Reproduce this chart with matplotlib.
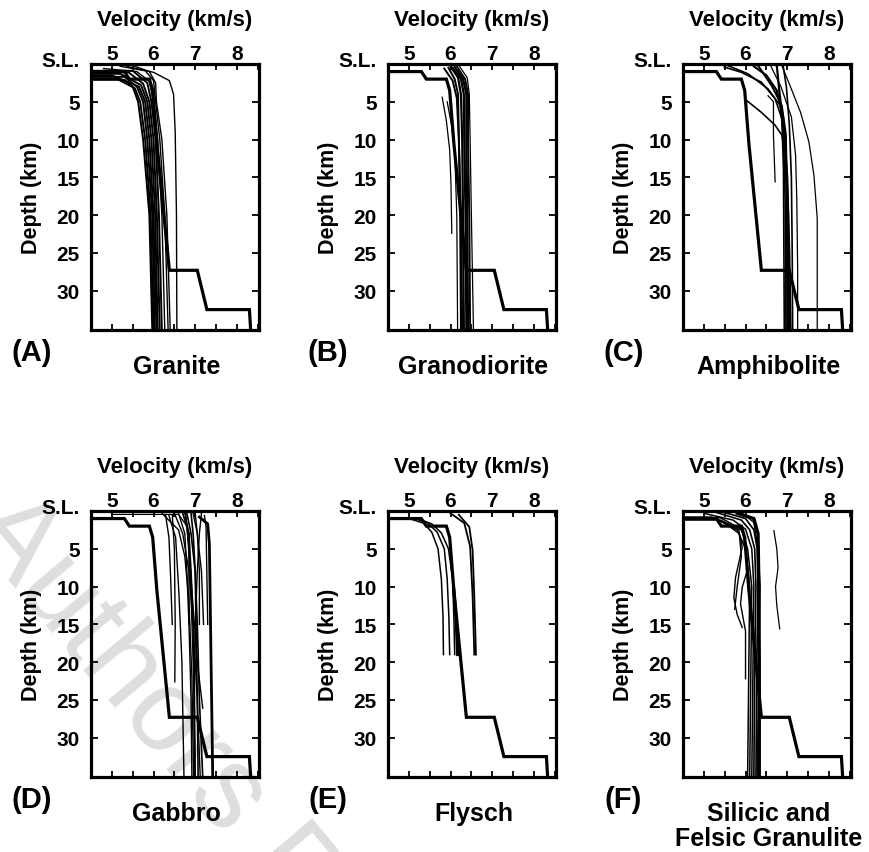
import matplotlib.pyplot as plt
from matplotlib.ticker import MultipleLocator
import matplotlib.transforms as mtransforms

plt.rcParams['font.family'] = ['Liberation Sans', 'DejaVu Sans']
plt.rcParams['font.weight'] = 'bold'

# reference crustal model, drawn in every panel
ref_v = [4.5, 5.3, 5.42, 5.9, 5.98, 6.08, 6.38, 7.05, 7.28, 8.3, 8.33]
ref_d = [1.0, 1.0, 2.0, 2.0, 3.5, 10.5, 27.3, 27.3, 32.5, 32.5, 35.2]

# (A) granite
granite_v = [
    [4.5, 5.3, 5.5, 5.63, 5.75, 5.9, 5.97],
    [4.5, 5.1, 5.55, 5.68, 5.8, 5.93, 6.0],
    [4.5, 5.3, 5.6, 5.75, 5.85, 5.97, 6.03],
    [4.5, 5.0, 5.65, 5.8, 5.9, 6.0, 6.07],
    [4.5, 5.2, 5.7, 5.85, 5.95, 6.04, 6.1],
    [4.5, 5.4, 5.75, 5.9, 6.0, 6.08, 6.15],
    [4.5, 5.5, 5.85, 5.95, 6.05, 6.13, 6.2],
    [4.8, 5.6, 5.9, 6.0, 6.1, 6.2, 6.27],
    [5.2, 5.8, 6.0, 6.05, 6.15, 6.27, 6.35],
    [5.5, 5.9, 6.05, 6.07, 6.2, 6.32, 6.4],
    [5.35, 6.0, 6.38, 6.48, 6.52, 6.55, 6.56],
]
granite_d = [
    [2.1, 2.1, 3.0, 5, 10, 20, 35.2],
    [1.9, 1.9, 3.2, 5, 10, 20, 35.2],
    [1.7, 1.7, 3.0, 5, 10, 20, 35.2],
    [1.5, 1.5, 3.0, 5, 10, 20, 35.2],
    [1.3, 1.3, 2.8, 5, 10, 20, 35.2],
    [1.1, 1.1, 2.6, 5, 10, 20, 35.2],
    [0.9, 0.9, 2.5, 5, 10, 20, 35.2],
    [0.6, 1.0, 2.3, 5, 10, 20, 35.2],
    [0.3, 0.9, 2.2, 5, 10, 20, 35.2],
    [0.2, 1.0, 2.5, 5, 10, 20, 35.2],
    [0.3, 1.1, 2.2, 4, 9, 20, 35.2],
]
granite_lw = [1.4, 1.4, 1.4, 1.4, 1.4, 1.4, 1.4, 1.0, 1.0, 1.0, 1.0]

# (B) granodiorite
granodiorite_v = [
    [5.8, 5.9, 5.98, 6.01, 6.03],
    [5.92, 6.02, 6.1, 6.15, 6.17],
    [5.85, 6.05, 6.15, 6.2, 6.25, 6.28],
    [5.95, 6.1, 6.18, 6.2, 6.23, 6.25],
    [6.0, 6.18, 6.25, 6.28, 6.3, 6.32],
    [6.05, 6.25, 6.32, 6.33, 6.36, 6.38],
    [6.1, 6.3, 6.38, 6.38, 6.4, 6.42],
    [6.15, 6.35, 6.42, 6.42, 6.45, 6.47],
    [6.2, 6.4, 6.45, 6.47, 6.5, 6.55],
]
granodiorite_d = [
    [4.4, 7.5, 11.4, 15.8, 22.4],
    [5.0, 8.0, 11.5, 20, 35.2],
    [0.6, 2.2, 4.5, 10, 20, 35.2],
    [0.5, 2.0, 4.0, 10, 20, 35.2],
    [0.3, 1.8, 4.0, 10, 20, 35.2],
    [0.5, 2.0, 4.0, 10, 20, 35.2],
    [0.4, 2.0, 4.0, 10, 20, 35.2],
    [0.3, 2.0, 4.0, 10, 20, 35.2],
    [0.2, 1.8, 4.0, 10, 20, 35.2],
]
granodiorite_lw = [0.9, 0.9, 1.4, 1.4, 1.6, 1.6, 1.6, 1.4, 0.9]

# (C) amphibolite
amphibolite_v = [
    [6.87, 7.07, 7.32, 7.52, 7.64, 7.72, 7.72],
    [6.6, 6.85, 7.1, 7.2, 7.23, 7.25, 7.25],
    [6.3, 6.63, 6.87, 6.97, 6.99, 7.0],
    [5.57, 6.06, 6.54, 6.83, 6.91, 6.95, 6.97],
    [5.49, 5.9, 6.38, 6.71, 6.87, 6.91, 6.93],
    [6.02, 6.38, 6.71, 6.87, 6.95, 6.99, 7.03],
    [6.54, 6.67, 6.67, 6.71],
    [6.75, 6.8, 6.9, 7.0, 7.05, 7.08],
    [6.9, 6.98, 7.05, 7.1, 7.12, 7.13],
    [6.2, 6.5, 6.75, 6.9, 6.97, 7.02, 7.05],
]
amphibolite_d = [
    [0.2, 2.9, 6.4, 10.3, 14.7, 20.4, 35.2],
    [0.2, 3.0, 7.0, 12, 18, 27, 35.2],
    [0.2, 2.9, 5.5, 9.4, 18, 35.2],
    [0.2, 1.3, 3.3, 5.5, 9.4, 18, 35.2],
    [0.4, 1.1, 2.4, 4.6, 7.2, 13.8, 35.2],
    [4.8, 6.4, 8.1, 9.4, 11.6, 18.2, 35.2],
    [4.2, 5.0, 9.4, 15.6],
    [0.2, 3, 8, 15, 25, 35.2],
    [0.2, 3, 8, 15, 25, 35.2],
    [0.3, 1.5, 3.5, 7, 12, 20, 35.2],
]
amphibolite_lw = [0.9, 0.9, 1.4, 1.2, 1.2, 1.2, 0.9, 1.6, 1.2, 1.6]

# (D) gabbro
gabbro_v = [
    [7.1, 7.3, 7.34, 7.38, 7.42],
    [7.22, 7.26, 7.3],
    [6.37, 6.53, 6.61, 6.68, 6.73],
    [6.29, 6.37, 6.41, 6.45],
    [6.45, 6.5, 6.52, 6.51],
    [6.77, 6.85, 6.94, 7.05, 7.18],
    [6.6, 6.75, 6.8, 6.85, 6.9, 6.92],
    [6.7, 6.85, 6.9, 6.95, 6.98, 7.0],
    [6.9, 6.95, 7.0, 7.02, 7.05, 7.07],
    [6.5, 6.7, 6.85, 6.95, 7.05, 7.12],
    [6.8, 6.9, 7.0, 7.05, 7.1, 7.18],
    [6.75, 6.85, 6.85, 6.85],
    [7.0, 7.05, 7.1, 7.1],
    [6.95, 7.05, 7.15, 7.2],
    [5.0, 6.6, 6.8, 6.88, 6.95, 7.0],
    [6.2, 6.6, 6.75, 6.85, 6.92, 6.96],
    [7.15, 7.1, 7.05, 7.0, 6.98, 6.97],
]
gabbro_d = [
    [0.8, 1.7, 4.4, 19.9, 35.2],
    [0.6, 2.1, 15],
    [0.6, 3.5, 11, 19.9, 35.2],
    [0.6, 3.5, 8.8, 15],
    [0.5, 5, 15, 22.6],
    [0.3, 5, 12, 20, 26.1],
    [0.3, 3, 8, 15, 25, 35.2],
    [0.3, 3, 8, 15, 25, 35.2],
    [0.3, 3, 8, 15, 25, 35.2],
    [0.3, 3, 8, 15, 25, 35.2],
    [0.3, 3, 8, 15, 25, 35.2],
    [0.3, 3, 8, 15],
    [0.3, 3, 8, 15],
    [0.3, 3, 8, 15],
    [0.45, 0.45, 2.0, 8, 20, 35.2],
    [0.3, 2.5, 6, 12, 22, 35.2],
    [0.3, 3, 8, 15, 25, 35.2],
]
gabbro_lw = [2.0, 1.0, 1.0, 1.0, 1.0, 1.0, 1.0, 1.2, 1.2, 1.0, 1.2, 1.0, 1.0, 1.0,
             0.9, 1.0, 1.0]

# (E) flysch
flysch_v = [
    [6.0, 6.33, 6.47, 6.53, 6.57],
    [6.2, 6.45, 6.53, 6.57, 6.61],
    [4.95, 5.35, 5.55, 5.7, 5.78, 5.82, 5.83],
    [5.1, 5.45, 5.68, 5.85, 5.92, 5.96, 5.98],
    [5.2, 5.55, 5.78, 5.95, 6.05, 6.08, 6.1],
    [6.08, 6.13, 6.17],
]
flysch_d = [
    [0.3, 1.6, 4.7, 11.3, 19],
    [0.5, 2.1, 5.2, 11.3, 19],
    [0.9, 1.6, 2.8, 5, 9, 14, 19],
    [0.9, 1.6, 2.8, 5, 9, 14, 19],
    [1.0, 1.7, 2.9, 5, 9, 14, 19],
    [10.4, 14, 19],
]
flysch_lw = [1.3, 1.3, 1.1, 1.1, 1.1, 2.2]

# (F) silicic and felsic granulite
granulite_v = [
    [6.68, 6.75, 6.78, 6.72, 6.75, 6.82],
    [5.8, 6.2, 6.3, 6.32, 6.33, 6.33],
    [4.5, 5.3, 5.84, 5.92, 5.76, 5.72, 5.8, 5.92],
    [4.5, 5.4, 5.92, 6.0, 6.04, 5.92, 5.88, 6.0, 6.0],
    [5.6, 5.85, 5.9, 5.8, 5.74],
    [4.5, 5.2, 5.8, 6.0, 6.1, 6.08, 6.05],
    [4.5, 5.4, 5.9, 6.05, 6.15, 6.13, 6.1],
    [5.0, 5.7, 6.0, 6.15, 6.2, 6.18, 6.15],
    [5.3, 5.9, 6.1, 6.22, 6.25, 6.22, 6.2],
    [5.5, 6.0, 6.2, 6.28, 6.3, 6.27, 6.25],
    [5.9, 6.2, 6.3, 6.35, 6.32, 6.28],
]
granulite_d = [
    [2.6, 5, 7.5, 10, 12.5, 15.6],
    [0.3, 1.0, 3, 10, 20, 35.2],
    [1.0, 1.0, 2.6, 4.8, 8.8, 11.5, 13.7, 15.4],
    [1.2, 1.2, 2.6, 4.8, 7.9, 10.1, 12.3, 15.9, 22.2],
    [2.0, 3, 6, 10, 13],
    [0.8, 0.8, 2.5, 5, 10, 20, 35.2],
    [0.9, 0.9, 2.4, 5, 10, 20, 35.2],
    [0.3, 1.2, 2.4, 5, 10, 20, 35.2],
    [0.2, 1.2, 2.5, 5, 10, 20, 35.2],
    [0.2, 1.0, 2.5, 5, 10, 20, 35.2],
    [0.2, 1.5, 5, 10, 20, 35.2],
]
granulite_lw = [0.9, 2.4, 1.0, 1.0, 1.0, 1.1, 1.1, 1.1, 1.2, 1.2, 1.0]

rock_names = ['Granite', 'Granodiorite', 'Amphibolite', 'Gabbro', 'Flysch',
              'Silicic and\nFelsic Granulite']
panel_letters = ['(A)', '(B)', '(C)', '(D)', '(E)', '(F)']
vel_ticks = [5, 6, 7, 8]
depth_ticks = [0, 5, 10, 15, 20, 25, 30]
depth_labels = ['S.L.', '5', '10', '15', '20', '25', '30']

panels = [
    (granite_v, granite_d, granite_lw),
    (granodiorite_v, granodiorite_d, granodiorite_lw),
    (amphibolite_v, amphibolite_d, amphibolite_lw),
    (gabbro_v, gabbro_d, gabbro_lw),
    (flysch_v, flysch_d, flysch_lw),
    (granulite_v, granulite_d, granulite_lw),
]

W, H = 869, 853
fig = plt.figure(figsize=(W / 100, H / 100), dpi=100)

# faint watermark behind the panels
fig.text(-0.04, 0.38, 'Authors P', rotation=-50,
         rotation_mode='anchor', ha='left', va='baseline', fontsize=84,
         fontweight='normal', color='#dedede', zorder=-5)

col_left = [91, 388, 683]
row_top = [65, 512]
ax_w, ax_h = 168, 266

for i, (vs, ds, lws) in enumerate(panels):
    r, c = divmod(i, 3)
    ax = fig.add_axes([col_left[c] / W, 1 - (row_top[r] + ax_h) / H,
                       ax_w / W, ax_h / H])
    ax.set_facecolor('none')

    for v, d, lw in zip(vs, ds, lws):
        ax.plot(v, d, color='black', lw=lw, solid_joinstyle='round')
    ax.plot(ref_v, ref_d, color='black', lw=2.3, solid_joinstyle='miter')

    ax.set_xlim(4.5, 8.53)
    ax.set_ylim(35.2, 0)

    ax.set_xticks(vel_ticks)
    ax.xaxis.set_minor_locator(MultipleLocator(0.5))
    ax.tick_params(axis='x', which='both', direction='in', top=True,
                   bottom=True, labeltop=True, labelbottom=False,
                   length=4, width=1.3, pad=1, labelsize=15)
    ax.set_yticks(depth_ticks, labels=depth_labels)
    ax.tick_params(axis='y', direction='in', left=True, right=True,
                   length=5, width=1.3, pad=8, labelsize=15)
    # S.L. sits a little above the top frame
    sl = ax.get_yticklabels()[0]
    sl.set_transform(sl.get_transform() +
                     mtransforms.ScaledTranslation(0, 4 / 72, fig.dpi_scale_trans))

    for sp in ax.spines.values():
        sp.set_linewidth(2.3)

    ax.annotate('Velocity (km/s)', xy=(0.5, 1), xycoords='axes fraction',
                xytext=(0, 32), textcoords='offset points',
                ha='center', va='center', fontsize=16)
    ax.annotate('Depth (km)', xy=(0, 0.5), xycoords='axes fraction',
                xytext=(-43, 0), textcoords='offset points', rotation=90,
                ha='center', va='center', fontsize=15.5)
    ax.annotate(panel_letters[i], xy=(0, 0), xycoords='axes fraction',
                xytext=(-43, -16), textcoords='offset points',
                ha='center', va='center', fontsize=21)
    ax.annotate(rock_names[i], xy=(0.5, 0), xycoords='axes fraction',
                xytext=(1, -17), textcoords='offset points',
                ha='center', va='top', fontsize=18,
                multialignment='center', linespacing=1.05)

fig.savefig('out.png', dpi=100)
